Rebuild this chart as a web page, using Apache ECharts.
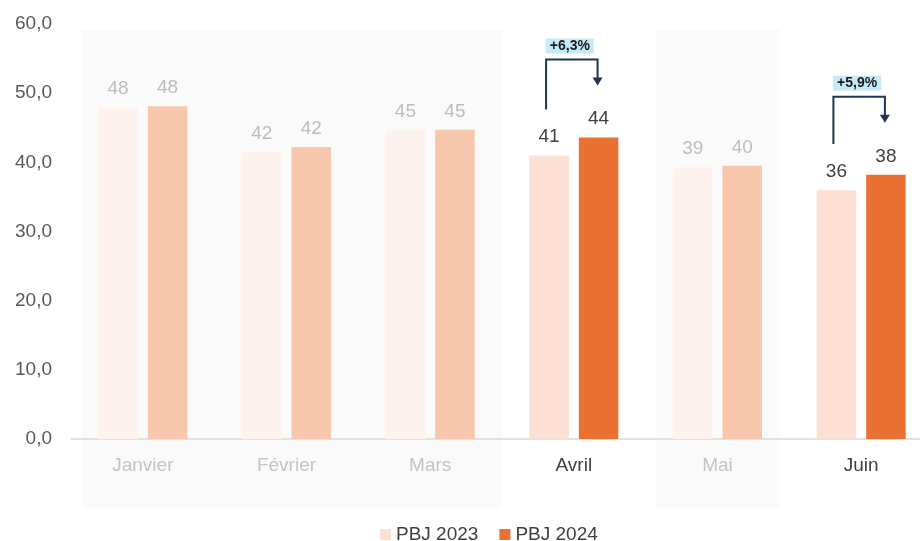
<!DOCTYPE html>
<html>
<head>
<meta charset="utf-8">
<script src="https://cdn.jsdelivr.net/npm/echarts@6/dist/echarts.min.js"></script>
<style>
html,body{margin:0;padding:0;background:#fff;}
#main{width:920px;height:541px;}
</style>
</head>
<body>
<div id="main"></div>
<script>
// ---- Data ----
const categories = ['Janvier', 'Février', 'Mars', 'Avril', 'Mai', 'Juin'];
const pbj2023 = [47.9, 41.5, 44.6, 41.0, 39.3, 36.0];
const pbj2024 = [48.1, 42.2, 44.7, 43.6, 39.5, 38.2];
const highlighted = ['Avril', 'Juin'];
const growthLabels = ['+6,3%', '+5,9%'];
const seriesNames = ['PBJ 2023', 'PBJ 2024'];
const yTicks = [0, 10, 20, 30, 40, 50, 60];

// ---- Styles ----
const FONT = 'Arial, "Liberation Sans", sans-serif';
const col2023 = { faded: '#fdf2ed', hi: '#fbe0d3' };
const col2024 = { faded: '#f6c6ad', hi: '#e97132' };
const labelFaded = '#bdbdbd';
const labelHi = '#404040';
const BAR_W = 39.5, BAR_GAP = 10;

function buildData(vals, cols) {
  return vals.map((v, i) => {
    const hi = highlighted.includes(categories[i]);
    return {
      value: v,
      itemStyle: { color: hi ? cols.hi : cols.faded },
      label: { color: hi ? labelHi : labelFaded }
    };
  });
}

const chart = echarts.init(document.getElementById('main'), null, { renderer: 'canvas' });

const option = {
  animation: false,
  backgroundColor: '#ffffff',
  grid: { left: 71, right: -13, top: 24, bottom: 102, containLabel: false, outerBoundsMode: 'none' },
  legend: {
    left: 375, top: 520,
    itemWidth: 11, itemHeight: 11, itemGap: 21,
    icon: 'rect',
    textStyle: { fontFamily: FONT, fontSize: 19, color: '#404040' },
    data: seriesNames
  },
  xAxis: {
    type: 'category',
    data: categories,
    axisTick: { show: false },
    axisLine: { show: true, lineStyle: { color: '#d9d9d9', width: 1.5 } },
    axisLabel: {
      margin: 17,
      fontFamily: FONT,
      fontSize: 19,
      color: function (v) { return highlighted.includes(v) ? labelHi : '#c4c4c4'; }
    }
  },
  yAxis: {
    type: 'value',
    min: yTicks[0], max: yTicks[yTicks.length - 1], interval: 10,
    splitLine: { show: false },
    axisLine: { show: false },
    axisTick: { show: false },
    axisLabel: {
      margin: 19,
      fontFamily: FONT, fontSize: 19, color: '#595959',
      formatter: v => v.toFixed(1).replace('.', ',')
    }
  },
  series: [
    {
      name: seriesNames[0], type: 'bar', barWidth: BAR_W, barGap: (BAR_GAP / BAR_W * 100) + '%',
      color: col2023.hi,
      data: buildData(pbj2023, col2023),
      z: 5,
      label: {
        show: true, position: 'top', distance: 9,
        fontFamily: FONT, fontSize: 19,
        formatter: p => String(Math.round(p.value))
      }
    },
    {
      name: seriesNames[1], type: 'bar', barWidth: BAR_W,
      color: col2024.hi,
      data: buildData(pbj2024, col2024),
      z: 5,
      label: {
        show: true, position: 'top', distance: 9,
        fontFamily: FONT, fontSize: 19,
        formatter: p => String(Math.round(p.value))
      }
    }
  ]
};
chart.setOption(option);

// ---- decorative bands and growth annotations positioned from axes ----
function px(cat, val) {
  return chart.convertToPixel({ xAxisIndex: 0, yAxisIndex: 0 }, [cat, val]);
}
const graphics = [];
const yTop = px(categories[0], 60)[1];
const y0 = px(categories[0], 0)[1];
// grey background bands for the non-highlighted groups
const bandRuns = [[0, 2], [4, 4]];
bandRuns.forEach(([a, b]) => {
  const xa = px(categories[a], 0)[0] - 61;
  const xb = px(categories[b], 0)[0] + (b === 2 ? 72 : 62);
  graphics.push({
    type: 'rect', z: -10, silent: true,
    shape: { x: xa, y: yTop + 6, width: xb - xa, height: (y0 + 69) - (yTop + 6) },
    style: { fill: '#fafafa' }
  });
});

const off = (BAR_W + BAR_GAP) / 2;
highlighted.forEach((cat, k) => {
  const i = categories.indexOf(cat);
  const cx = px(cat, 0)[0];
  const y23 = px(cat, pbj2023[i])[1];
  const y24 = px(cat, pbj2024[i])[1];
  const lx = cx - off - 3;
  const rx = cx + off - 1;
  const yb = y23 - 46;
  const tip = y24 - 52;
  const top = Math.min(y23, y24) - 78;
  const lineCol = '#1f3553';
  graphics.push({
    type: 'polyline', z: 100, silent: true,
    shape: { points: [[lx, yb], [lx, top], [rx, top], [rx, tip - 7]] },
    style: { stroke: lineCol, lineWidth: 2, fill: null }
  });
  graphics.push({
    type: 'polygon', z: 100, silent: true,
    shape: { points: [[rx - 5, tip - 8], [rx + 5, tip - 8], [rx, tip]] },
    style: { fill: lineCol }
  });
  graphics.push({
    type: 'text', z: 101, silent: true,
    x: (lx + rx) / 2 - 2, y: top - 13.5,
    style: {
      text: growthLabels[k],
      font: 'bold 14px ' + FONT,
      fill: '#1a1a1a',
      align: 'center', verticalAlign: 'middle',
      backgroundColor: '#c6ebf8',
      lineHeight: 14,
      padding: [1, 4, 0, 4]
    }
  });
});
chart.setOption({ graphic: graphics });
</script>
</body>
</html>
